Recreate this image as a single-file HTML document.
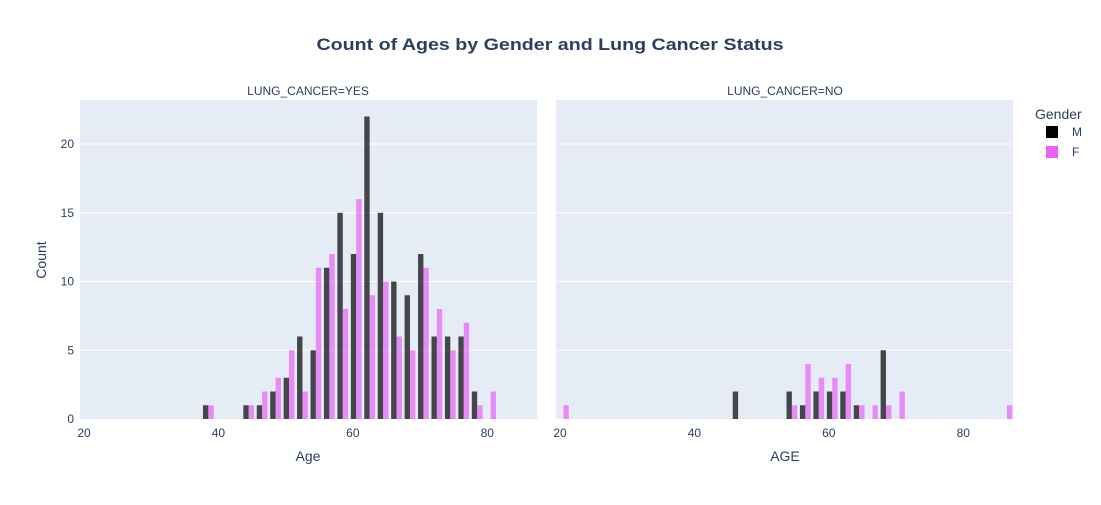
<!DOCTYPE html>
<html><head><meta charset="utf-8"><style>
body{margin:0;background:#fff;font-family:"Liberation Sans",Arial,sans-serif;}
svg text{font-family:"Liberation Sans",Arial,sans-serif;}
</style></head><body>
<svg id="chart" width="1101" height="500" xmlns="http://www.w3.org/2000/svg">
<text x="550" y="50" text-anchor="middle" font-size="17" font-weight="bold" fill="#2a3f5f" textLength="467" lengthAdjust="spacingAndGlyphs">Count of Ages by Gender and Lung Cancer Status</text>
<text x="308" y="95" text-anchor="middle" font-size="12" fill="#2a3f5f">LUNG_CANCER=YES</text>
<text x="785" y="95" text-anchor="middle" font-size="12" fill="#2a3f5f">LUNG_CANCER=NO</text>
<text x="46" y="260" text-anchor="middle" font-size="14" fill="#2a3f5f" transform="rotate(-90 46 260)">Count</text>
<text x="308" y="461" text-anchor="middle" font-size="14" fill="#2a3f5f">Age</text>
<text x="785" y="461" text-anchor="middle" font-size="14" fill="#2a3f5f">AGE</text>
<g>
<text x="1035" y="119" font-size="14" fill="#2a3f5f">Gender</text>
<g><rect x="1046" y="126" width="12" height="12" fill="#000"/><text x="1072" y="136" font-size="12" fill="#2a3f5f">M</text></g>
<g><rect x="1046" y="146" width="12" height="12" fill="#E763FA"/><text x="1072" y="156" font-size="12" fill="#2a3f5f">F</text></g>
</g>
</svg>
<script>
const binStarts = [19.5,37.5,39.5,41.5,43.5,45.5,47.5,49.5,51.5,53.5,55.5,57.5,59.5,61.5,63.5,65.5,67.5,69.5,71.5,73.5,75.5,77.5,79.5,85.5];
const yesM = [0,1,0,0,1,1,2,3,6,5,11,15,12,22,15,10,9,12,6,6,6,2,0,0];
const yesF = [0,1,0,0,1,2,3,5,2,11,12,8,16,9,10,6,5,11,8,5,7,1,2,0];
const noM  = [0,0,0,0,0,2,0,0,0,2,1,2,2,2,1,0,5,0,0,0,0,0,0,0];
const noF  = [1,0,0,0,0,0,0,0,0,1,4,3,3,4,1,1,1,2,0,0,0,0,0,1];
const xTicks = [20,40,60,80];
const yTicks = [0,5,10,15,20];
const binWidth = 2;
const NS='http://www.w3.org/2000/svg';
const svg=document.getElementById('chart');
const xMin=19.4,xMax=87.4,yMax=23.2,plotTop=100,plotBot=419;
const panels=[{x0:80,x1:537,m:yesM,f:yesF,n:'yes'},{x0:556,x1:1013,m:noM,f:noF,n:'no'}];
function mk(t,a){const e=document.createElementNS(NS,t);for(const k in a)e.setAttribute(k,a[k]);svg.appendChild(e);return e;}
const yS=v=>plotBot-(v/yMax)*(plotBot-plotTop);
panels.forEach((p,pi)=>{
  const xS=v=>p.x0+(v-xMin)/(xMax-xMin)*(p.x1-p.x0);
  const bg=mk('rect',{x:p.x0,y:plotTop,width:p.x1-p.x0,height:plotBot-plotTop,fill:'#E5ECF6'});
  
  
  yTicks.forEach(t=>{
    if(t>0){const g=mk('line',{x1:p.x0,x2:p.x1,y1:yS(t),y2:yS(t),stroke:'#fff','stroke-width':1});
    
    }
    if(pi===0){const tx=mk('text',{x:p.x0-6,y:yS(t)+4,'text-anchor':'end','font-size':12,fill:'#2a3f5f'});tx.textContent=t;
    
    }
  });
  xTicks.forEach(t=>{
    const tx=mk('text',{x:xS(t),y:plotBot+18,'text-anchor':'middle','font-size':12,fill:'#2a3f5f'});tx.textContent=t;
    
    
  });
  const bw=xS(binWidth)-xS(0);
  binStarts.forEach((b,i)=>{
    const x=xS(b)+bw*0.1, w=bw*0.4;
    [[p.m[i],'rgba(0,0,0,0.7)','m'],[p.f[i],'rgba(231,99,250,0.7)','f']].forEach((s,j)=>{
      if(!s[0])return;
      const bx=x+j*w, bwid=Math.min(w,p.x1-bx);
      if(bwid<=0)return;
      const r=mk('rect',{x:bx,y:yS(s[0]),width:bwid,height:plotBot-yS(s[0]),fill:s[1]});
      
      
    });
  });
});
</script>
</body></html>
